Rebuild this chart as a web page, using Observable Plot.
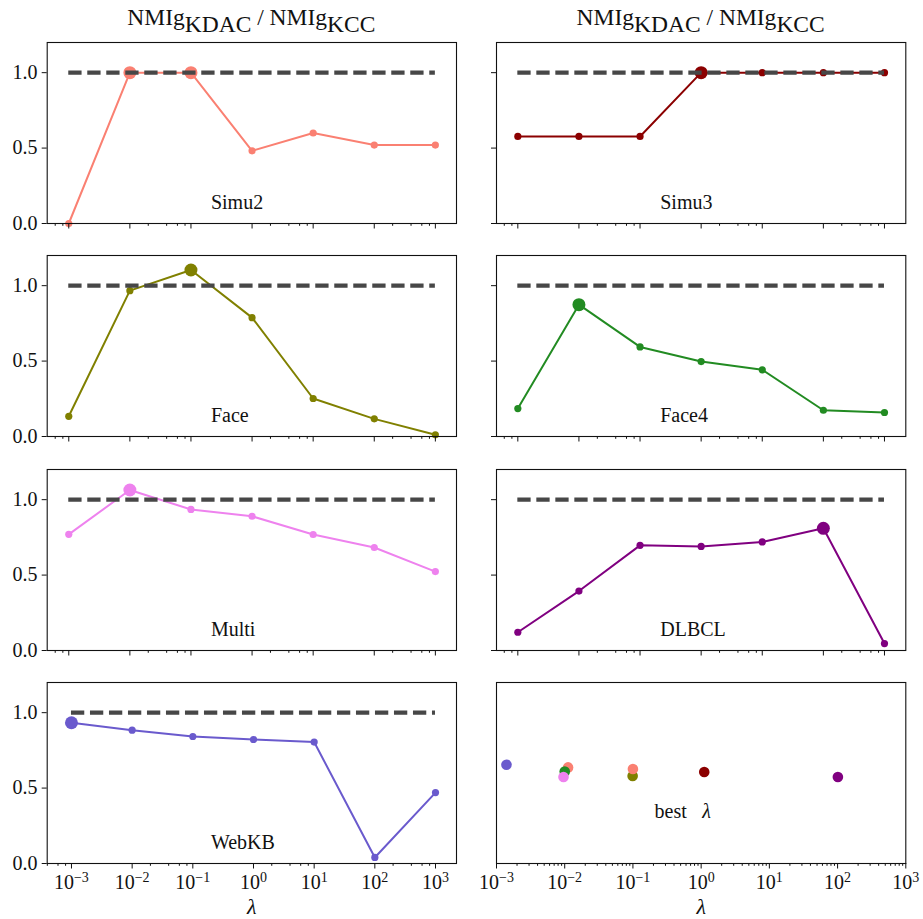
<!DOCTYPE html>
<html><head><meta charset="utf-8">
<script src="https://cdn.jsdelivr.net/npm/d3@7"></script>
<script src="https://cdn.jsdelivr.net/npm/@observablehq/plot@0.6"></script>
<style>
body{margin:0;background:#fff;}
#wrap{position:relative;width:923px;height:919px;overflow:hidden;background:#fff;font-family:"Liberation Serif",serif;}
#wrap svg{position:absolute;font-family:"Liberation Serif",serif !important;}
#wrap svg text{font-family:"Liberation Serif",serif !important;}
</style></head><body><div id="wrap"></div>
<script>
// ---- data ----
const lambdas = [1e-3, 1e-2, 1e-1, 1, 10, 100, 1000];
const exponents = [-3, -2, -1, 0, 1, 2, 3];
const yTicks = [0, 0.5, 1.0];
const names = ["Simu2", "Simu3", "Face", "Face4", "Multi", "DLBCL", "WebKB"];
const colors = ["salmon", "darkred", "olive", "forestgreen", "violet", "purple", "slateblue"];
const simu2 = [0.0, 1.0, 1.0, 0.482, 0.60, 0.52, 0.52];
const simu3 = [0.577, 0.577, 0.577, 1.0, 1.0, 1.0, 1.0];
const face  = [0.134, 0.967, 1.104, 0.788, 0.252, 0.117, 0.011];
const face4 = [0.185, 0.874, 0.594, 0.497, 0.442, 0.174, 0.159];
const multi = [0.77, 1.064, 0.935, 0.89, 0.769, 0.683, 0.523];
const dlbcl = [0.121, 0.394, 0.697, 0.69, 0.72, 0.81, 0.046];
const webkb = [0.933, 0.884, 0.842, 0.822, 0.805, 0.04, 0.47];
const bestIndex = [[1, 2], [3], [2], [1], [1], [5], [0]];
const baseline = 1.0;
// best lambda scatter (jittered)
const bestNames  = ["Face", "Simu2", "Simu2", "Face4", "Multi", "Simu3", "DLBCL", "WebKB"];
const bestLambda = [0.099, 0.1, 0.0112, 0.01, 0.0096, 1.11, 101, 0.0014];
const bestJitter = [0.58, 0.627, 0.637, 0.61, 0.573, 0.607, 0.573, 0.655];
const minorTop = [4e-4, 6e-4, 8e-4, 0.02, 0.04, 0.06, 0.08, 2, 4, 6, 8, 200, 400, 600, 800];
const minorDecade = [2, 3, 4, 5, 6, 7, 8, 9];

const series = [simu2, simu3, face, face4, multi, dlbcl, webkb];
const colorOf = Object.fromEntries(names.map((n, i) => [n, colors[i]]));

// ---- layout ----
const rowTops = [41.5, 255, 468.5, 682];
const frameH = 181;
const wrap = document.getElementById("wrap");
const FONT = "Liberation Serif";

// titles
const tsvg = d3.select(wrap).append("svg").attr("width", 923).attr("height", 40)
  .style("left", "0px").style("top", "0px");
[251.35, 700.65].forEach(cx => {
  const t = tsvg.append("text").attr("x", cx).attr("y", 24.5).attr("text-anchor", "middle")
    .attr("font-family", FONT).attr("font-size", 23.5).attr("fill", "#111").style("white-space", "pre");
  t.append("tspan").text("NMIg");
  t.append("tspan").attr("dy", 7.5).text("KDAC");
  t.append("tspan").attr("dy", -7.5).text(" / NMIg");
  t.append("tspan").attr("dy", 7.5).text("KCC");
});

function tickLabelMarks() {
  const neg = exponents.filter(e => e < 0), pos = exponents.filter(e => e >= 0);
  const mk = (arr, dx) => [
    Plot.text(arr, {x: e => 10 ** e, text: () => "10", frameAnchor: "bottom", dy: 25.5, dx, textAnchor: "end", lineAnchor: "bottom", fontSize: 20, fontFamily: FONT, fill: "#111"}),
    Plot.text(arr, {x: e => 10 ** e, text: e => (e < 0 ? "\u2212" : "") + Math.abs(e), frameAnchor: "bottom", dy: 18.7, dx, textAnchor: "start", lineAnchor: "bottom", fontSize: 14, fontFamily: FONT, fill: "#111"})
  ];
  return [...mk(neg, 2.5), ...mk(pos, 6.5)];
}

function place(svg, left, top) {
  svg.style.left = left + "px";
  svg.style.top = top + "px";
  wrap.appendChild(svg);
}

function linePanel(k, col, row) {
  const isLeft = col === 0, isBottom = row === 3;
  const W = isLeft ? 470 : 453;
  const mL = isLeft ? 46.7 : 26, mR = isLeft ? 14 : 17.7;
  const top = rowTops[row];
  const mT = 10, mB = isBottom ? 919 - (top + frameH) : 10;
  const lo = isLeft ? (isBottom ? -3.4 : -3.353) : -3.349;
  const hi = isLeft ? 3.346 : 3.349;
  const data = lambdas.map((l, i) => ({l, v: series[k][i]}));
  const best = bestIndex[k].map(i => data[i]);
  const color = colors[k];
  const marks = [
    Plot.line(data, {x: "l", y: "v", stroke: color, strokeWidth: 2}),
    Plot.dot(data, {x: "l", y: "v", r: 3.6, fill: color}),
    Plot.dot(best, {x: "l", y: "v", r: 6.5, fill: color}),
    Plot.ruleY([baseline], {x1: lambdas[0], x2: lambdas[lambdas.length - 1], stroke: "#474747", strokeWidth: 4.2, strokeDasharray: "13.3,5.7"}),
    Plot.text([names[k]], {frameAnchor: "bottom-left", dx: 0.4 * (W - mL - mR), dy: -14.4, textAnchor: "start", lineAnchor: "bottom", fontSize: 20, fontFamily: FONT, fill: "#111"}),
    Plot.axisY({ticks: yTicks, tickSize: 5, tickPadding: 4.7, strokeWidth: 1, fontSize: 20, fontFamily: FONT, tickFormat: isLeft ? d3.format(".1f") : () => ""}),
    Plot.axisX({ticks: lambdas, tickSize: 5.5, strokeWidth: 1, tickFormat: () => ""}),
    Plot.axisX({ticks: minorTop.filter(v => Math.log10(v) > lo && Math.log10(v) < hi), tickSize: 2.8, strokeWidth: 1, tickFormat: () => ""}),
    Plot.frame({stroke: "#111", strokeWidth: 1.1})
  ];
  if (isBottom) {
    marks.push(...tickLabelMarks());
    marks.push(Plot.text(["\u03bb"], {frameAnchor: "bottom", dy: 50, fontStyle: "italic", fontSize: 22, fontFamily: FONT, lineAnchor: "bottom", fill: "#111"}));
  }
  const svg = Plot.plot({
    width: W, height: mT + frameH + mB,
    marginLeft: mL, marginRight: mR, marginTop: mT, marginBottom: mB,
    x: {type: "log", domain: [10 ** lo, 10 ** hi], label: null},
    y: {domain: [0, 1.2], label: null},
    style: {fontFamily: FONT, fontSize: "20px", background: "transparent", overflow: "visible", color: "#111"},
    marks
  });
  place(svg, isLeft ? 0 : 470, top - mT);
}

// left column: Simu2, Face, Multi, WebKB ; right column: Simu3, Face4, DLBCL
linePanel(0, 0, 0);
linePanel(1, 1, 0);
linePanel(2, 0, 1);
linePanel(3, 1, 1);
linePanel(4, 0, 2);
linePanel(5, 1, 2);
linePanel(6, 0, 3);

// best lambda panel
(function () {
  const W = 453, mL = 26, mR = 17.7, top = rowTops[3], mT = 10, mB = 919 - (top + frameH);
  const pts = bestNames.map((n, i) => ({n, l: bestLambda[i], v: bestJitter[i]}));
  const minors = [];
  for (let e = -3; e < 3; e++) for (const m of minorDecade) minors.push(m * 10 ** e);
  const svg = Plot.plot({
    width: W, height: mT + frameH + mB,
    marginLeft: mL, marginRight: mR, marginTop: mT, marginBottom: mB,
    x: {type: "log", domain: [1e-3, 1e3], label: null},
    y: {domain: [0, 1.2], label: null, axis: null},
    style: {fontFamily: FONT, fontSize: "20px", background: "transparent", overflow: "visible", color: "#111"},
    marks: [
      Plot.dot(pts, {x: "l", y: "v", r: 5.3, fill: d => colorOf[d.n]}),
      Plot.text(["best"], {frameAnchor: "bottom-left", dx: 158, dy: -45.3, textAnchor: "start", lineAnchor: "bottom", fontSize: 20, fontFamily: FONT, fill: "#111"}),
      Plot.text(["\u03bb"], {frameAnchor: "bottom-left", dx: 205.7, dy: -45.3, textAnchor: "start", lineAnchor: "bottom", fontSize: 20, fontFamily: FONT, fontStyle: "italic", fill: "#111"}),
      Plot.axisX({ticks: lambdas, tickSize: 5.5, strokeWidth: 1, tickFormat: () => ""}),
      Plot.axisX({ticks: minors, tickSize: 2.8, strokeWidth: 1, tickFormat: () => ""}),
      ...tickLabelMarks(),
      Plot.text(["\u03bb"], {frameAnchor: "bottom", dy: 50, fontStyle: "italic", fontSize: 22, fontFamily: FONT, lineAnchor: "bottom", fill: "#111"}),
      Plot.frame({stroke: "#111", strokeWidth: 1.1})
    ]
  });
  place(svg, 470, top - mT);
})();
</script></body></html>
